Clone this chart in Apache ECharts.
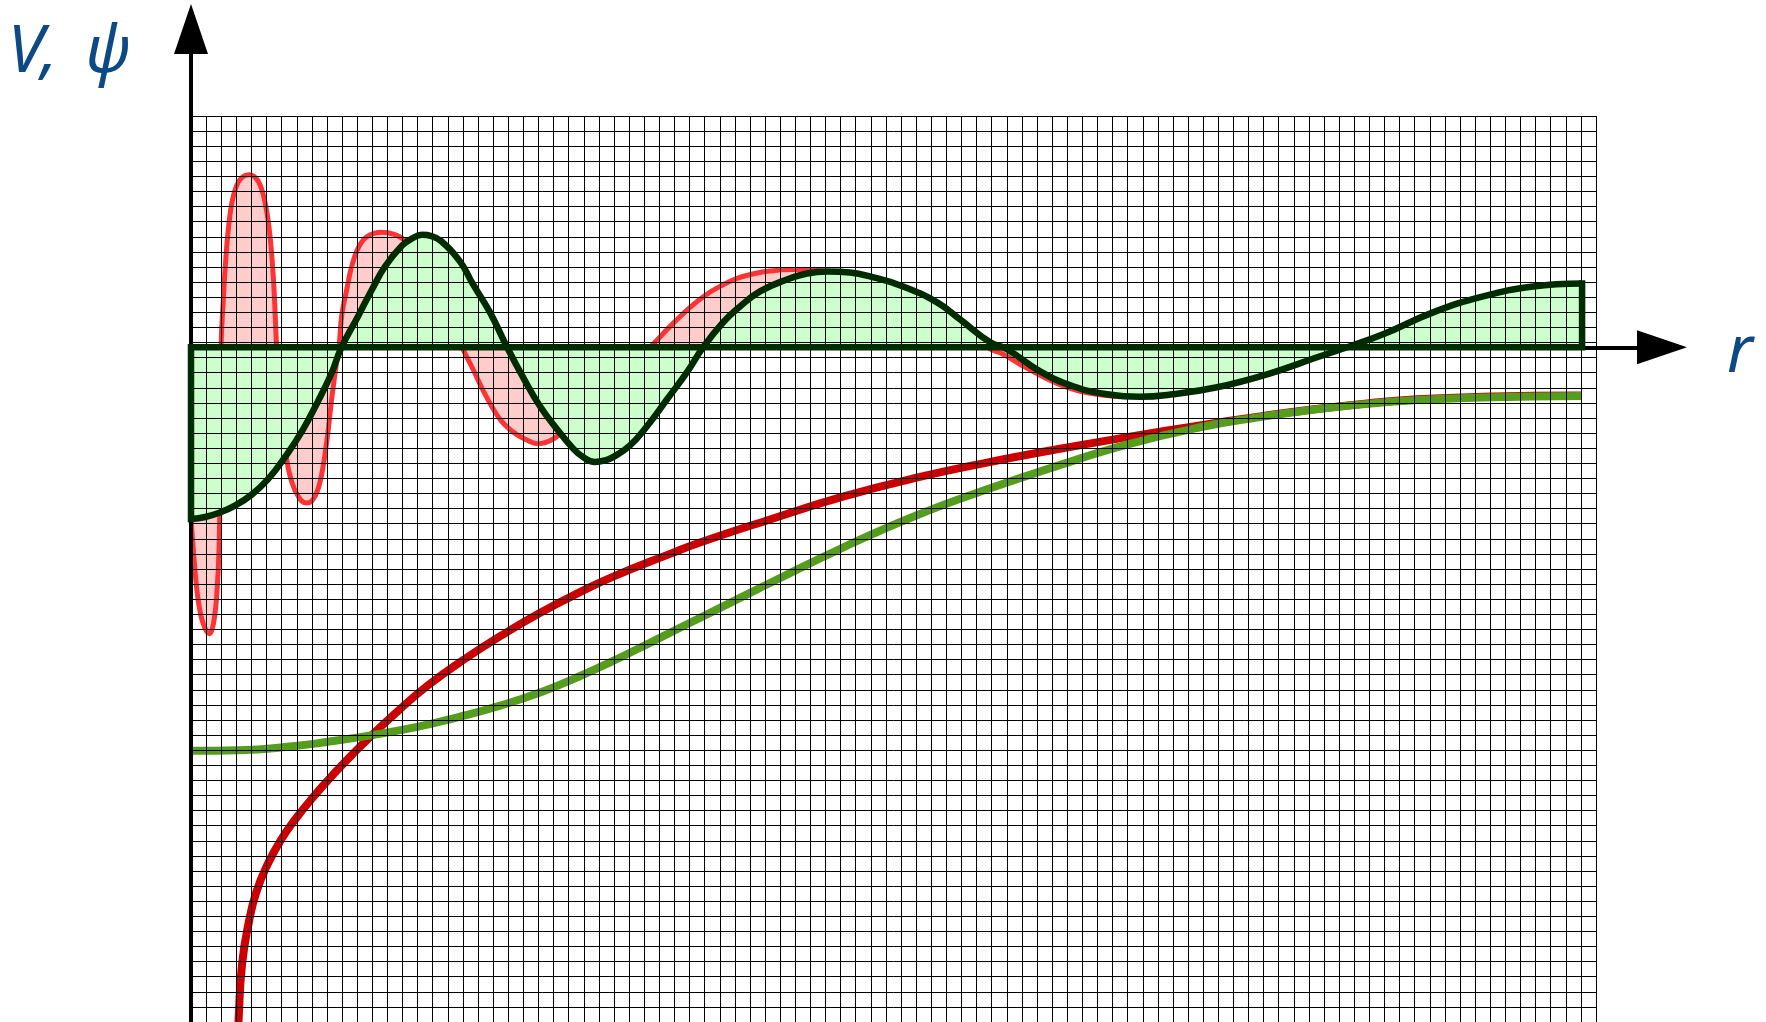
<!DOCTYPE html>
<html>
<head>
<meta charset="utf-8">
<script src="https://cdn.jsdelivr.net/npm/echarts@6/dist/echarts.min.js"></script>
<style>
html,body{margin:0;padding:0;background:#ffffff;}
#chart{width:1766px;height:1022px;}
</style>
</head>
<body>
<div id="chart"></div>
<script>
// ---- data (units: graph-paper cells; r along x, V / psi along y) ----
const paperCols = 93;
const paperRows = 60;
const rMax = 97.36;
const vMin = -44.74;
const vMax = 21.11;
const axisTitles = ['V,\u00A0\u2009\u03C8', 'r'];

// pseudo wavefunction (dark green, filled light green)
const pseudoWave = [
  [0,-11.38],[0.93,-11.25],[1.92,-10.95],[2.91,-10.50],[4.04,-9.75],[5.10,-8.74],[6.22,-7.28],
  [7.35,-5.56],[8.41,-3.57],[9.33,-1.65],[9.93,-0.07],[11.05,2.05],[11.98,3.84],[12.84,5.36],
  [13.97,6.75],[14.63,7.22],[15.29,7.46],[15.92,7.38],[16.55,7.05],[17.81,5.68],[18.67,4.17],
  [19.79,2.32],[20.92,0],[21.98,-1.99],[23.10,-3.91],[24.23,-5.43],[25.28,-6.70],[25.95,-7.28],
  [26.72,-7.60],[27.40,-7.50],[27.93,-7.28],[29.06,-6.50],[30.18,-5.23],[31.51,-3.44],[32.83,-1.65],
  [33.89,0],[35.21,1.65],[36.34,2.71],[37.66,3.71],[39.45,4.50],[40.77,4.90],[42.10,5.03],
  [43.62,4.96],[44.94,4.70],[47.13,4.04],[49.38,2.98],[50.90,1.85],[52.89,0.33],[54.01,-0.13],
  [56.20,-1.59],[58.38,-2.58],[60.63,-3.11],[62.81,-3.28],[65.00,-3.11],[67.91,-2.65],[71.22,-1.79],
  [74.53,-0.66],[76.71,0.07],[78.90,0.86],[82.21,2.32],[85.52,3.38],[88.83,4.04],[92.07,4.24]
];

// all-electron wavefunction (red, filled pink)
const allElectronWave = [
  [0,-11.38],[0.22,-14.23],[0.44,-16.48],[0.77,-18.20],[1.21,-19.00],[1.54,-18.00],[1.77,-15.36],
  [1.87,-12.71],[1.94,-8.74],[1.99,0],[2.14,3.18],[2.30,5.82],[2.52,8.27],[2.80,10.01],[3.24,11.12],
  [3.84,11.45],[4.45,11.01],[4.90,9.60],[5.23,7.37],[5.47,4.30],[5.67,0],[5.89,-3.44],[6.22,-6.75],
  [6.67,-8.94],[7.21,-10.06],[7.66,-10.33],[8.10,-10.06],[8.54,-8.94],[8.98,-6.29],[9.31,-3.44],
  [9.64,-0.99],[9.80,0],[9.97,2.07],[10.31,3.84],[10.64,5.38],[11.07,6.60],[11.63,7.33],[12.62,7.63],
  [13.50,7.48],[14.16,7.10],[15.16,6.35],[16.15,4.83],[17.01,2.85],[17.47,1.19],[17.94,0],
  [18.60,-1.32],[19.53,-3.24],[20.45,-4.77],[21.25,-5.56],[22.11,-6.09],[22.97,-6.39],[23.96,-6.09],
  [25.09,-5.10],[26.41,-3.77],[27.73,-2.45],[29.06,-1.19],[30.38,0],[31.71,1.39],[33.03,2.65],
  [34.02,3.44],[35.01,4.04],[36.14,4.57],[37.33,4.90],[38.32,5.06],[39.65,5.16],[40.51,5.16],
  [41.30,5.13],[42.10,5.03],[43.62,4.96],[44.94,4.70],[47.13,4.04],[49.38,2.98],[50.90,1.85],
  [51.89,0.86],[52.69,0],[53.75,-0.46],[54.87,-1.12],[56.20,-1.85],[57.52,-2.48],[58.84,-2.91],
  [60.17,-3.14],[61.49,-3.28]
];

// Coulomb potential (dark red)
const coulombPotential = [
  [3.11,-45.80],[3.15,-44.59],[3.38,-40.90],[3.86,-37.95],[4.33,-36.10],[5.04,-34.35],[5.98,-32.62],
  [6.93,-31.26],[8.11,-29.80],[9.53,-28.20],[10.95,-26.72],[11.89,-25.80],[13.79,-24.03],
  [15.68,-22.42],[18.04,-20.72],[20.88,-18.90],[23.24,-17.53],[25.61,-16.30],[27.98,-15.19],
  [31.75,-13.68],[33.69,-12.94],[38.42,-11.38],[43.15,-9.90],[47.88,-8.68],[52.60,-7.66],
  [57.33,-6.76],[62.06,-5.94],[66.79,-5.18],[70.76,-4.58],[73.40,-4.22],[77.84,-3.72],
  [81.15,-3.45],[85.52,-3.28],[92.01,-3.20]
];

// pseudopotential (green)
const pseudoPotential = [
  [0,-26.76],[3.15,-26.72],[6.69,-26.46],[9.06,-26.16],[11.89,-25.73],[14.97,-25.17],[17.57,-24.55],
  [20.41,-23.78],[23.24,-22.84],[25.61,-21.86],[27.97,-20.78],[30.34,-19.61],[32.70,-18.43],
  [36.67,-16.45],[38.42,-15.58],[43.15,-13.28],[47.88,-11.20],[52.60,-9.45],[57.33,-7.86],
  [62.06,-6.42],[66.79,-5.30],[70.76,-4.62],[73.40,-4.25],[76.71,-3.86],[81.15,-3.50],
  [85.52,-3.32],[92.01,-3.22]
];

// ---- chart ----
const first = pseudoWave[0];
const last = pseudoWave[pseudoWave.length - 1];
const pseudoOutline = [[last[0], last[1]], [last[0], 0], [0, 0], [0, first[1]]];

const chart = echarts.init(document.getElementById('chart'), null, {renderer: 'canvas'});

const hidden = {
  axisTick: {show: false},
  axisLabel: {show: false}
};

const option = {
  backgroundColor: '#ffffff',
  animation: false,
  grid: [
    {left: 191, top: 29, width: 1471, height: 995, containLabel: false},
    {left: 191, top: 116, width: 1405, height: 906.5, containLabel: false}
  ],
  xAxis: [
    Object.assign({
      gridIndex: 0, type: 'value', min: 0, max: rMax, z: 5,
      axisLine: {show: true, onZero: true, symbol: ['none', 'triangle'], symbolSize: [34, 50],
                 lineStyle: {color: '#000000', width: 4}},
      splitLine: {show: false}
    }, hidden),
    Object.assign({
      gridIndex: 1, type: 'value', min: 0, max: paperCols, interval: 1, z: 4,
      axisLine: {show: false},
      splitLine: {show: true, showMinLine: true, showMaxLine: true,
                  lineStyle: {color: '#000000', width: 1}}
    }, hidden)
  ],
  yAxis: [
    Object.assign({
      gridIndex: 0, type: 'value', min: vMin, max: vMax, z: 5,
      axisLine: {show: true, onZero: true, symbol: ['none', 'triangle'], symbolSize: [34, 50],
                 lineStyle: {color: '#000000', width: 4}},
      splitLine: {show: false}
    }, hidden),
    Object.assign({
      gridIndex: 1, type: 'value', min: 0, max: paperRows, interval: 1, z: 4,
      axisLine: {show: false},
      splitLine: {show: true, showMinLine: true, showMaxLine: true,
                  lineStyle: {color: '#000000', width: 1}}
    }, hidden)
  ],
  series: [
    {
      name: 'all-electron wavefunction', type: 'line', xAxisIndex: 0, yAxisIndex: 0,
      data: allElectronWave, smooth: 0.4, showSymbol: false, symbol: 'none', z: 1,
      lineStyle: {color: '#ff3333', width: 5},
      areaStyle: {color: '#ffcccc', opacity: 1}
    },
    {
      name: 'pseudo wavefunction fill', type: 'line', xAxisIndex: 0, yAxisIndex: 0,
      data: pseudoWave, smooth: 0.45, showSymbol: false, symbol: 'none', z: 2,
      lineStyle: {width: 0, opacity: 0},
      areaStyle: {color: '#ccffcc', opacity: 1}
    },
    {
      name: 'Coulomb potential', type: 'line', xAxisIndex: 0, yAxisIndex: 0,
      data: coulombPotential, smooth: 0.5, showSymbol: false, symbol: 'none', z: 3,
      lineStyle: {color: '#cc0000', width: 8}
    },
    {
      name: 'pseudopotential', type: 'line', xAxisIndex: 0, yAxisIndex: 0,
      data: pseudoPotential, smooth: 0.5, showSymbol: false, symbol: 'none', z: 3.5,
      lineStyle: {color: '#559e1c', width: 8}
    },
    {
      name: 'pseudo wavefunction', type: 'line', xAxisIndex: 0, yAxisIndex: 0,
      data: pseudoWave, smooth: 0.45, showSymbol: false, symbol: 'none', z: 6,
      lineStyle: {color: '#002a00', width: 6.5}
    },
    {
      name: 'pseudo wavefunction outline', type: 'line', xAxisIndex: 0, yAxisIndex: 0,
      data: pseudoOutline, smooth: false, showSymbol: false, symbol: 'none', z: 6,
      lineStyle: {color: '#002a00', width: 6.5, cap: 'square', join: 'miter'}
    }
  ],
  graphic: [
    {type: 'text', x: 8, y: 53, z: 10,
     style: {text: axisTitles[0], font: 'italic 65px "Noto Sans"', fill: '#0b4a85',
             align: 'left', verticalAlign: 'middle'}},
    {type: 'text', x: 1727, y: 353, z: 10,
     style: {text: axisTitles[1], font: 'italic 65px "Noto Sans"', fill: '#0b4a85',
             align: 'left', verticalAlign: 'middle'}}
  ]
};
chart.setOption(option);
</script>
</body>
</html>
